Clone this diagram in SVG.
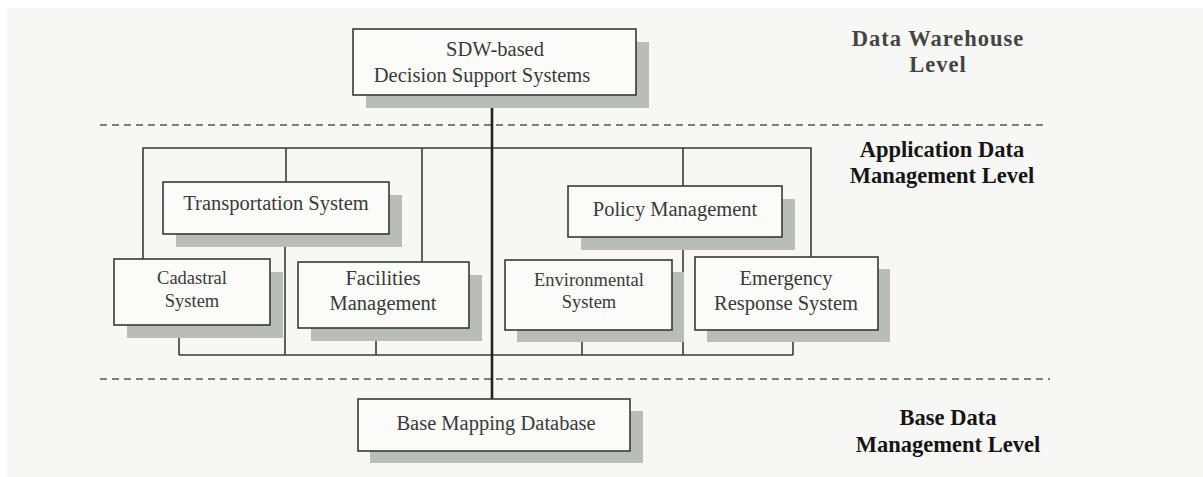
<svg xmlns="http://www.w3.org/2000/svg" width="1203" height="477" viewBox="0 0 1203 477">
<style>
.bg{fill:#f7f7f5}
.box{fill:#fbfbf9;stroke:#383838;stroke-width:1.6}
.sh{fill:#b9bdba}
.t{font-family:"Liberation Serif","Times New Roman",serif;font-size:20.5px;fill:#3a3a3a;text-anchor:middle}
.ts{font-size:18.5px}
.lv{font-family:"Liberation Serif","Times New Roman",serif;font-size:22.5px;font-weight:bold;fill:#151515;text-anchor:middle}
.conn{stroke:#3a3a3a;stroke-width:1.6;fill:none}
.main{stroke:#222;stroke-width:2.6;fill:none}
.dash{stroke:#555;stroke-width:1.6;stroke-dasharray:7 5;fill:none}
</style>
<rect x="0" y="0" width="1203" height="477" fill="#ffffff"/>
<rect class="bg" x="7" y="8" width="1196" height="469"/>

<g id="levels">
<line class="dash" x1="100" y1="125" x2="1047" y2="125"/>
<line class="dash" x1="100" y1="379" x2="1050" y2="379"/>
<text class="lv" x="938" y="46" fill="#444" style="fill:#444;letter-spacing:1px">Data Warehouse</text>
<text class="lv" x="938" y="72" style="fill:#444;letter-spacing:1px">Level</text>
<text class="lv" x="942" y="157">Application Data</text>
<text class="lv" x="942" y="183">Management Level</text>
<text class="lv" x="948" y="425">Base Data</text>
<text class="lv" x="948" y="452">Management Level</text>
</g>

<g id="connectors">
<polyline class="conn" points="143,259 143,148 811,148 811,257"/>
<line class="conn" x1="286" y1="148" x2="286" y2="182"/>
<line class="conn" x1="422" y1="148" x2="422" y2="262"/>
<line class="conn" x1="683" y1="148" x2="683" y2="186"/>
<line class="conn" x1="179" y1="355" x2="793" y2="355"/>
<line class="conn" x1="179" y1="325" x2="179" y2="355"/>
<line class="conn" x1="285" y1="234" x2="285" y2="355"/>
<line class="conn" x1="376" y1="328" x2="376" y2="355"/>
<line class="conn" x1="683" y1="237" x2="683" y2="355"/>
<line class="conn" x1="582" y1="330" x2="582" y2="355"/>
<line class="conn" x1="793" y1="330" x2="793" y2="355"/>
<line class="main" x1="492" y1="95" x2="492" y2="399"/>
</g>

<g id="sdw">
<rect class="sh" x="366" y="42" width="283" height="66"/>
<rect class="box" x="353" y="29" width="283" height="66"/>
<text class="t" x="495" y="56">SDW-based</text>
<text class="t" x="482" y="82">Decision Support Systems</text>
</g>

<g id="transportation">
<rect class="sh" x="176" y="195" width="226" height="52"/>
<rect class="box" x="163" y="182" width="226" height="52"/>
<text class="t" x="276" y="210">Transportation System</text>
</g>

<g id="policy">
<rect class="sh" x="581" y="199" width="214" height="51"/>
<rect class="box" x="568" y="186" width="214" height="51"/>
<text class="t" x="675" y="216">Policy Management</text>
</g>

<g id="cadastral">
<rect class="sh" x="127" y="272" width="156" height="66"/>
<rect class="box" x="114" y="259" width="156" height="66"/>
<text class="t ts" x="192" y="284">Cadastral</text>
<text class="t ts" x="192" y="307">System</text>
</g>

<g id="facilities">
<rect class="sh" x="311" y="275" width="171" height="66"/>
<rect class="box" x="298" y="262" width="171" height="66"/>
<text class="t" x="383" y="285">Facilities</text>
<text class="t" x="383" y="310">Management</text>
</g>

<g id="environmental">
<rect class="sh" x="517" y="272" width="167" height="70"/>
<rect class="box" x="505" y="260" width="167" height="70"/>
<text class="t ts" x="589" y="286">Environmental</text>
<text class="t ts" x="589" y="308">System</text>
</g>

<g id="emergency">
<rect class="sh" x="707" y="269" width="183" height="73"/>
<rect class="box" x="695" y="257" width="183" height="73"/>
<text class="t" x="786" y="285">Emergency</text>
<text class="t" x="786" y="310">Response System</text>
</g>

<g id="base">
<rect class="sh" x="370" y="411" width="273" height="52"/>
<rect class="box" x="358" y="399" width="272" height="52"/>
<text class="t" x="496" y="430">Base Mapping Database</text>
</g>
</svg>
